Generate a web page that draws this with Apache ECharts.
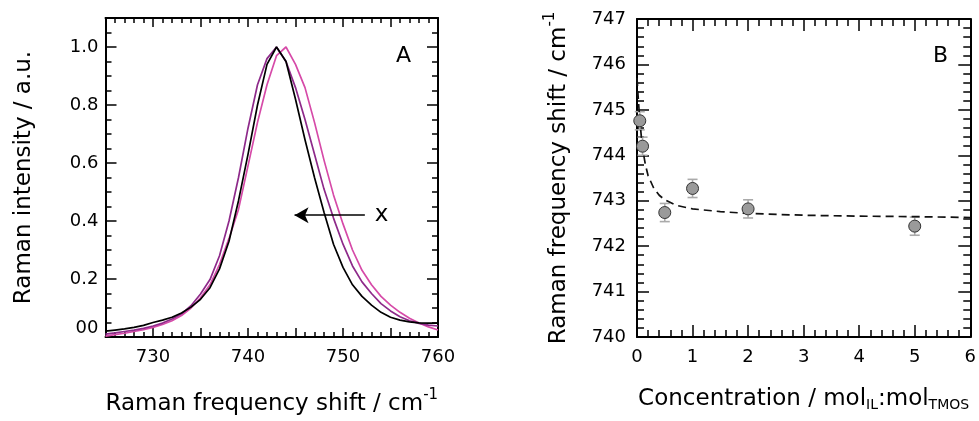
<!DOCTYPE html>
<html>
<head>
<meta charset="utf-8">
<script src="https://cdn.jsdelivr.net/npm/echarts@6/dist/echarts.min.js"></script>
<style>
html,body{margin:0;padding:0;background:#fff;}
#chart{width:979px;height:421px;}
</style>
</head>
<body>
<div id="chart"></div>
<script>
// panel A: Raman spectra (cm-1, a.u.)
var ramanShift = [725,726,727,728,729,730,731,732,733,734,735,736,737,738,739,740,741,742,
	743,744,745,746,747,748,749,750,751,752,753,754,755,756,757,758,759,760];
var intensityBlack = [0.02,0.024,0.028,0.033,0.04,0.05,0.058,0.068,0.083,0.103,0.13,0.17,0.235,0.33,0.47,0.63,0.80,0.94,
	1.0,0.95,0.82,0.68,0.55,0.43,0.32,0.24,0.18,0.14,0.11,0.085,0.068,0.058,0.052,0.049,0.048,0.048];
var intensityPurple = [0.01,0.014,0.019,0.024,0.03,0.038,0.048,0.062,0.08,0.108,0.148,0.198,0.28,0.4,0.55,0.72,0.87,0.96,
	1.0,0.95,0.86,0.75,0.63,0.51,0.41,0.32,0.245,0.19,0.15,0.115,0.09,0.07,0.056,0.047,0.041,0.038];
var intensityPink = [0.003,0.008,0.013,0.019,0.025,0.033,0.043,0.056,0.074,0.1,0.135,0.18,0.25,0.34,0.44,0.59,0.74,0.87,
	0.97,1.0,0.94,0.86,0.74,0.61,0.49,0.39,0.3,0.23,0.18,0.14,0.11,0.085,0.065,0.048,0.035,0.024];

// panel B: peak position vs concentration
var concX = [0.05,0.1,0.5,1,2,5];
var shiftY = [744.76,744.2,742.74,743.27,742.82,742.44];
var shiftErr = [0.2,0.2,0.2,0.2,0.2,0.2];
var fitX = [0,0.02,0.04,0.06,0.08,0.1,0.15,0.2,0.3,0.4,0.5,0.7,1,1.5,2,3,4,5,6];
var fitY = [745.7,745.3,744.95,744.65,744.38,744.15,743.8,743.55,743.28,743.12,743.02,742.9,742.82,742.76,742.72,742.68,742.66,742.65,742.63];

var font = 'DejaVu Sans';

function pairs(xs,ys)
{
	var out = [];
	for(var i=0;i<xs.length;i++)
	{
		out.push([xs[i],ys[i]]);
	}
	return out;
}

//坐标轴，四边都画，刻度朝里
function makeAxis(gridIndex,position,min,max,interval,minorSplit,tickLen,minorLen)
{
	return {
		type:'value',gridIndex:gridIndex,position:position,
		min:min,max:max,interval:interval,
		axisLine:{show:true,onZero:false,lineStyle:{color:'#000',width:2}},
		axisTick:{show:true,inside:true,length:tickLen,lineStyle:{color:'#000',width:1.5}},
		minorTick:{show:true,splitNumber:minorSplit,length:minorLen,lineStyle:{color:'#000',width:1.5}},
		splitLine:{show:false},
		minorSplitLine:{show:false},
		axisLabel:{show:false}
	};
}

var labelStyle = {show:true,color:'#000',fontSize:18,fontFamily:font};
var nameStyle = {color:'#000',fontSize:23,fontFamily:font,
	rich:{
		sup:{fontSize:15,fontFamily:font,color:'#000',padding:[0,0,18,0]},
		sub:{fontSize:14,fontFamily:font,color:'#000',padding:[12,0,0,0]}
	}};

// A
var xA = makeAxis(0,'bottom',725,760,5,5,9,5);
xA.axisLabel = Object.assign({},labelStyle,{margin:11,formatter:function(v){return v%10===0 ? String(v) : '';}});
xA.name = 'Raman frequency shift / cm{sup|-1}';
xA.nameLocation = 'middle';
xA.nameGap = 51;
xA.nameTextStyle = nameStyle;
var xAtop = makeAxis(0,'top',725,760,5,5,9,5);

var yA = makeAxis(0,'left',0,1.1,0.2,4,11,6);
yA.axisLabel = Object.assign({},labelStyle,{margin:7,showMaxLabel:false,
	formatter:function(v){
		if(v===0) return '{z|00}';
		if(v>1.05) return '';
		return v.toFixed(1);
	},
	rich:{z:{fontSize:18,fontFamily:font,color:'#000',padding:[0,0,18,0]}}});
yA.name = 'Raman intensity / a.u.';
yA.nameLocation = 'middle';
yA.nameGap = 70;
yA.nameTextStyle = nameStyle;
var yAright = makeAxis(0,'right',0,1.1,0.2,4,11,6);

// B
var xB = makeAxis(1,'bottom',0,6,1,5,12,7);
xB.axisLabel = Object.assign({},labelStyle,{margin:11});
xB.name = 'Concentration / mol{sub|IL}:mol{sub|TMOS}';
xB.nameLocation = 'middle';
xB.nameGap = 49;
xB.nameTextStyle = nameStyle;
var xBtop = makeAxis(1,'top',0,6,1,5,12,7);

var yB = makeAxis(1,'left',740,747,1,5,12,7);
yB.axisLabel = Object.assign({},labelStyle,{margin:11});
yB.name = 'Raman frequency shift / cm{sup|-1}';
yB.nameLocation = 'middle';
yB.nameGap = 61;
yB.nameTextStyle = nameStyle;
var yBright = makeAxis(1,'right',740,747,1,5,12,7);

var titleStyle = {color:'#000',fontSize:22,fontWeight:'normal',fontFamily:font};

var option = {
	animation:false,
	backgroundColor:'#fff',
	title:[
		{text:'A',left:391,top:40,textStyle:titleStyle},
		{text:'B',left:928,top:40,textStyle:titleStyle}
	],
	grid:[
		{left:105.5,top:18,width:332.5,height:319},
		{left:637,top:19,width:334,height:318}
	],
	xAxis:[xA,xAtop,xB,xBtop],
	yAxis:[yA,yAright,yB,yBright],
	series:[
		{
			type:'line',xAxisIndex:0,yAxisIndex:0,showSymbol:false,
			data:pairs(ramanShift,intensityPink),
			lineStyle:{color:'#d64aa8',width:1.7}
		},
		{
			type:'line',xAxisIndex:0,yAxisIndex:0,showSymbol:false,
			data:pairs(ramanShift,intensityPurple),
			lineStyle:{color:'#8e2a8a',width:1.7}
		},
		{
			type:'line',xAxisIndex:0,yAxisIndex:0,showSymbol:false,
			data:pairs(ramanShift,intensityBlack),
			lineStyle:{color:'#000',width:1.7},
			//箭头 + 标注 x
			markLine:{
				silent:true,symbol:['none','arrow'],symbolSize:[12,14],
				lineStyle:{color:'#000',width:1.5,type:'solid'},
				label:{show:true,position:'start',formatter:'x',fontSize:23,color:'#000',fontFamily:font,distance:10},
				data:[[{coord:[752.3,0.42]},{coord:[744.9,0.42]}]]
			}
		},
		{
			type:'line',xAxisIndex:2,yAxisIndex:2,showSymbol:false,
			data:pairs(fitX,fitY),
			lineStyle:{color:'#111',width:1.7,type:[8,5]}
		},
		{
			//误差棒
			type:'custom',xAxisIndex:2,yAxisIndex:2,z:3,
			data:concX.map(function(x,i){return [x,shiftY[i]-shiftErr[i],shiftY[i]+shiftErr[i]];}),
			renderItem:function(params,api)
			{
				var lo = api.coord([api.value(0),api.value(1)]);
				var hi = api.coord([api.value(0),api.value(2)]);
				var w = 5;
				var st = {stroke:'#aaa',lineWidth:1.6};
				return {type:'group',children:[
					{type:'line',shape:{x1:lo[0],y1:lo[1],x2:hi[0],y2:hi[1]},style:st},
					{type:'line',shape:{x1:lo[0]-w,y1:lo[1],x2:lo[0]+w,y2:lo[1]},style:st},
					{type:'line',shape:{x1:hi[0]-w,y1:hi[1],x2:hi[0]+w,y2:hi[1]},style:st}
				]};
			}
		},
		{
			type:'scatter',xAxisIndex:2,yAxisIndex:2,z:4,
			data:pairs(concX,shiftY),
			symbolSize:12,
			itemStyle:{color:'#9a9a9a',borderColor:'#333',borderWidth:1,opacity:1}
		}
	]
};

var myChart = echarts.init(document.getElementById('chart'));
myChart.setOption(option);
</script>
</body>
</html>
